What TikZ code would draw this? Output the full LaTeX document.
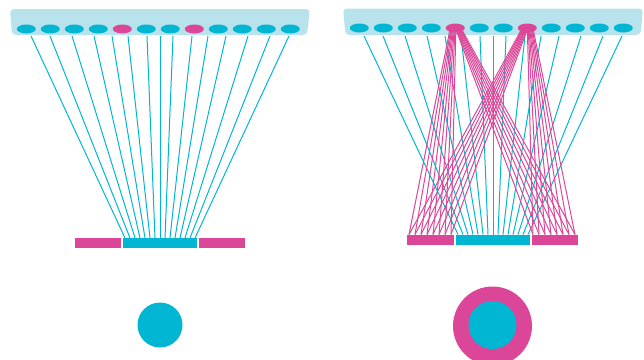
\documentclass[tikz,border=0pt]{standalone}
\usepackage{tikz}
\usetikzlibrary{shapes.geometric}
\definecolor{fanCyan}{RGB}{0,182,210}
\definecolor{fanPink}{RGB}{220,70,152}
\definecolor{fanPale}{RGB}{185,227,236}

\begin{document}
\begin{tikzpicture}[
    x=1pt, y=-1pt,
    tray/.style={fill=fanPale, rounded corners=4pt},
    pad/.style={ellipse, fill=fanCyan, minimum width=19pt, minimum height=9pt, inner sep=0pt},
    hot/.style={pad, fill=fanPink},
    wire/.style={draw=fanCyan, line width=1pt},
    pinkwire/.style={draw=fanPink, line width=1pt},
  ]
  \useasboundingbox (0,0) rectangle (644,359);

  % left panel
  \fill[tray] (10,9) -- (310,9) -- (307,35) -- (12,35) -- cycle;
  \foreach \i/\kind in {1/pad,2/pad,3/pad,4/pad,5/hot,6/pad,7/pad,8/hot,9/pad,10/pad,11/pad,12/pad}
    \node[\kind] (L\i) at (2.3+24*\i,29) {};
  \foreach \tx [count=\k from 0] in {31,50,72,94,112,128,147,160,173,192,208,226,248,270,289} {
    \coordinate (LT\k) at (\tx,36);
    \coordinate (LB\k) at (125+5*\k,238);
    \draw[wire] (LT\k) -- (LB\k);
  }
  \fill[fanPink] (75,238) rectangle (121,248);
  \fill[fanCyan] (123,238) rectangle (197,248);
  \fill[fanPink] (199,238) rectangle (245,248);
  \fill[fanCyan] (160,325) circle (22.5);

  % right panel
  \fill[tray] (343,8.5) -- (643,8.5) -- (640.5,35) -- (345.5,35) -- cycle;
  \foreach \i/\kind in {1/pad,2/pad,3/pad,4/pad,5/hot,6/pad,7/pad,8/hot,9/pad,10/pad,11/pad,12/pad}
    \node[\kind] (R\i) at (335.3+24*\i,28) {};
  \foreach \tx [count=\k from 0] in {31,50,72,94,112,128,147,160,173,192,208,226,248,270,289} {
    \coordinate (RT\k) at (\tx+333,36);
    \coordinate (RB\k) at (458+5*\k,234.5);
    \draw[wire] (RT\k) -- (RB\k);
  }
  \foreach \j in {0,...,7} {
    \coordinate (PL\j) at (409+6*\j,234.5);
    \coordinate (PR\j) at (533+6*\j,234.5);
    \draw[pinkwire] ([xshift=-5pt+\j*0.8pt]R5.center) -- (PL\j);
    \draw[pinkwire] ([xshift=\j*0.8pt]R5.center) -- (PR\j);
    \draw[pinkwire] ([xshift=-5pt+\j*0.8pt]R8.center) -- (PL\j);
    \draw[pinkwire] ([xshift=\j*0.8pt]R8.center) -- (PR\j);
  }
  \fill[fanPink] (407,234.5) rectangle (453.5,245);
  \fill[fanCyan] (456,234.5) rectangle (530,245);
  \fill[fanPink] (531.5,234.5) rectangle (578,245);
  \fill[fanPink] (492.5,326) circle (39.5);
  \fill[fanCyan] (492.5,325) circle (24);
\end{tikzpicture}
\end{document}
